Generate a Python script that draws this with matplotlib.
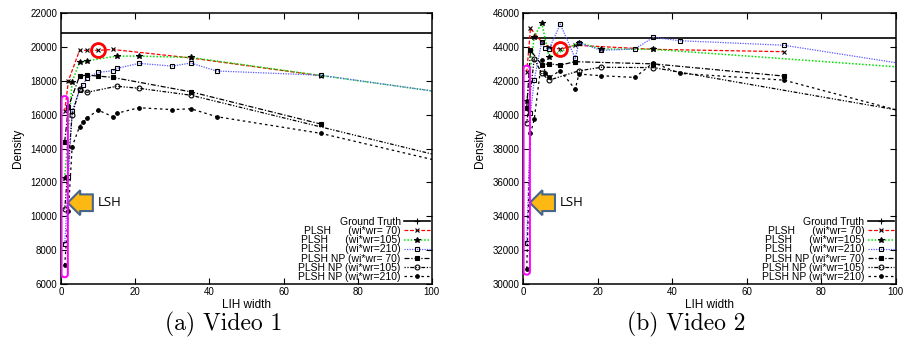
import matplotlib.pyplot as plt
from matplotlib.patches import FancyBboxPatch
from matplotlib.lines import Line2D

plt.rcParams['font.family'] = ['Liberation Sans', 'DejaVu Sans']

# LIH widths tried for each wi*wr (its divisors)
x70 = [1, 2, 5, 7, 10, 14, 35, 70]
x105 = [1, 3, 5, 7, 15, 21, 35, 105]
x210 = [1, 2, 3, 5, 6, 7, 10, 14, 15, 21, 30, 35, 42, 70, 105]
gt_x = [0, 105]

# (a) Video 1
v1_truth = [20800, 20800]
v1_plsh70 = [16200, 18000, 19800, 19800, 19800, 19850, 19350, 18300]
v1_plsh105 = [12250, 17950, 19090, 19180, 19460, 19460, 19380, 17250]
v1_plsh210 = [8360, 12300, 16200, 17450, 17780, 18180, 18500, 18590, 18730,
              19030, 18870, 19050, 18580, 18330, 17250]
v1_np70 = [14400, 16470, 18280, 18340, 18280, 18200, 17350, 15450]
v1_np105 = [10400, 16000, 17500, 17320, 17680, 17560, 17150, 13410]
v1_np210 = [7100, 10300, 14100, 15300, 15550, 15800, 16270, 15880, 16080,
            16410, 16300, 16350, 15880, 14900, 13100]

# (b) Video 2
v2_truth = [44500, 44500]
v2_plsh70 = [42500, 45100, 44300, 44000, 43870, 44100, 43860, 43720]
v2_plsh105 = [40800, 44600, 45430, 43400, 44250, 43880, 43860, 42750]
v2_plsh210 = [32400, 40080, 42050, 44300, 43950, 43880, 45350, 43330, 44250,
              43800, 43880, 44570, 44370, 44100, 42900]
v2_np70 = [40400, 43800, 42950, 43000, 42930, 43130, 43000, 42280]
v2_np105 = [39500, 43300, 42440, 42040, 42590, 42800, 42780, 40100]
v2_np210 = [30900, 38900, 39720, 43230, 42480, 42200, 42600, 41500, 42400,
            42300, 42200, 43070, 42440, 42040, 40000]

labels = ['Ground Truth',
          'PLSH      (wi*wr= 70)',
          'PLSH      (wi*wr=105)',
          'PLSH      (wi*wr=210)',
          'PLSH NP (wi*wr= 70)',
          'PLSH NP (wi*wr=105)',
          'PLSH NP (wi*wr=210)']

styles = [
    dict(color='k', ls='-', lw=1.2, marker='+', ms=5, mfc='k'),
    dict(color='#ff0000', ls=(0, (3, 1.5)), lw=0.9, marker='x', ms=3.2, mfc='k'),
    dict(color='#00e000', ls=(0, (1, 1.2)), lw=1.1, marker='*', ms=4, mfc='k'),
    dict(color='#5a5aff', ls=(0, (1, 1)), lw=0.9, marker='s', ms=3.5, mfc='none'),
    dict(color='k', ls=(0, (4, 1.5, 1, 1.5)), lw=0.9, marker='s', ms=3.5, mfc='k'),
    dict(color='k', ls=(0, (1, 1.3, 1, 1.3, 3, 1.3)), lw=0.9, marker='o', ms=3.5, mfc='none'),
    dict(color='k', ls=(0, (2, 2.5)), lw=0.9, marker='o', ms=2.6, mfc='k'),
]

fig = plt.figure(figsize=(9.09, 3.5), dpi=100)
ax1 = fig.add_axes([0.0671, 0.1886, 0.408, 0.774])
ax2 = fig.add_axes([0.5754, 0.1886, 0.410, 0.774])

videos = [
    (ax1, [v1_truth, v1_plsh70, v1_plsh105, v1_plsh210, v1_np70, v1_np105, v1_np210],
     (6000, 22000), '(a) Video 1', (17100, 6400), 224),
    (ax2, [v2_truth, v2_plsh70, v2_plsh105, v2_plsh210, v2_np70, v2_np105, v2_np210],
     (30000, 46000), '(b) Video 2', (42900, 30550), 686),
]
xs = [gt_x, x70, x105, x210, x70, x105, x210]

for ax, series, ylim, caption, band, cap_x in videos:
    for i in range(7):
        st = dict(styles[i])
        if i == 0:
            st.pop('marker')
        ax.plot(xs[i], series[i], color=st.pop('color'), ls=st.pop('ls'),
                lw=st.pop('lw'), mec='k', mew=0.8, **st)

    ax.set_xlim(0, 100)
    ax.set_ylim(*ylim)
    ax.set_yticks(range(ylim[0], ylim[1] + 1, 2000))
    ax.set_xticks([0, 20, 40, 60, 80, 100])
    ax.tick_params(direction='in', top=True, right=True, labelsize=7, length=4, width=0.8, pad=2.5)
    for s in ax.spines.values():
        s.set_linewidth(1.1)
    ax.set_xlabel('LIH width', fontsize=8.5, labelpad=1)
    ax.set_ylabel('Density', fontsize=8.5, labelpad=5)

    # LSH points (LIH width 1) highlighted
    yspan = ylim[1] - ylim[0]
    box = FancyBboxPatch((0.15, band[1]), 1.7, band[0] - band[1],
                         boxstyle='round,pad=0,rounding_size=0.8',
                         mutation_aspect=yspan / 271 / (100 / 371),
                         fc='none', ec='#ff00ff', lw=1.4, zorder=5)
    ax.add_patch(box)

    # best PLSH setting circled
    ax.plot(x70[4], series[1][4], 'o', ms=10, mfc='none', mec='#ff0000', mew=2, zorder=6)

    ax.text(0.06, 0.3, '    ', transform=ax.transAxes, fontsize=8,
            ha='center', va='center',
            bbox=dict(boxstyle='larrow,pad=0.3', fc='#fdb813', ec='#45658a', lw=1.5))
    ax.text(0.098, 0.3, 'LSH', transform=ax.transAxes, fontsize=9.5,
            ha='left', va='center', family=['Open Sans', 'DejaVu Sans'])

    handles = []
    for st in styles:
        handles.append(Line2D([], [], color=st['color'], ls=st['ls'], lw=st['lw'],
                              marker=st['marker'], ms=st['ms'], mfc=st['mfc'],
                              mec='k', mew=0.8))
    ax.legend(handles, labels, loc='lower right', frameon=False, fontsize=7.5,
              markerfirst=False, handlelength=2.5, handletextpad=0.3,
              labelspacing=-0.08, borderpad=0.1, borderaxespad=0.1, numpoints=1)

    fig.text(cap_x / 909, 0.108, caption, ha='center', va='top',
             fontsize=17, family='cmr10')

fig.savefig('out.png', dpi=100)
